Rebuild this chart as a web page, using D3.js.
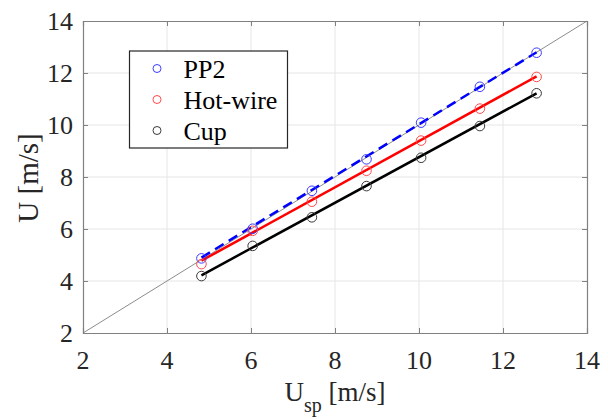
<!DOCTYPE html>
<html>
<head>
<meta charset="utf-8">
<script src="https://cdn.jsdelivr.net/npm/d3@7"></script>
</head>
<body style="margin:0; background:#fff; font-family: 'Times New Roman', serif">
<script>
// measured reference speeds (x) and the three instruments (y)
const uSp     = [4.82, 6.04, 7.45, 8.75, 10.05, 11.45, 12.8];
const pp2     = [4.87, 6.01, 7.47, 8.68, 10.09, 11.47, 12.78];
const hotWire = [4.65, 5.93, 7.05, 8.24, 9.40, 10.63, 11.85];
const cup     = [4.19, 5.35, 6.45, 7.65, 8.74, 9.96, 11.22];

// fitted lines, start/end values at first and last uSp
const fitX       = [4.82, 12.8];
const fitPP2     = [4.90, 12.80];
const fitHotWire = [4.78, 11.87];
const fitCup     = [4.22, 11.22];

const ticks = [2, 4, 6, 8, 10, 12, 14];
const seriesNames = ["PP2", "Hot-wire", "Cup"];

const serif = size => size + "px 'Times New Roman', serif";

const W = 608, H = 419;
const margin = { top: 21, right: 21, bottom: 86, left: 83 };
const width = W - margin.left - margin.right;
const height = H - margin.top - margin.bottom;

const svg = d3.select("body").append("svg")
    .attr("width", W)
    .attr("height", H);

const g = svg.append("g")
    .attr("transform", "translate(" + margin.left + "," + margin.top + ")");

const x = d3.scaleLinear().domain([2, 14]).range([0, width]);
const y = d3.scaleLinear().domain([2, 14]).range([height, 0]);

// grid
g.append("g").selectAll("line")
    .data(ticks.slice(1, -1)).join("line")
    .attr("x1", d => x(d)).attr("x2", d => x(d))
    .attr("y1", 0).attr("y2", height)
    .attr("stroke", "#e6e6e6").attr("stroke-width", 1);
g.append("g").selectAll("line")
    .data(ticks.slice(1, -1)).join("line")
    .attr("y1", d => y(d)).attr("y2", d => y(d))
    .attr("x1", 0).attr("x2", width)
    .attr("stroke", "#e6e6e6").attr("stroke-width", 1);

// y = x reference line
g.append("line")
    .attr("x1", x(2)).attr("y1", y(2))
    .attr("x2", x(14)).attr("y2", y(14))
    .attr("stroke", "#8c8c8c").attr("stroke-width", 1);

// axes: lines only, labels drawn below
const xAxis = g.append("g").attr("transform", "translate(0," + height + ")")
    .call(d3.axisBottom(x).tickValues(ticks).tickSize(-5).tickFormat(""));
const yAxis = g.append("g")
    .call(d3.axisLeft(y).tickValues(ticks).tickSize(-5).tickFormat(""));
g.append("g").call(d3.axisTop(x).tickValues(ticks).tickSize(-5).tickFormat(""));
g.append("g").attr("transform", "translate(" + width + ",0)")
    .call(d3.axisRight(y).tickValues(ticks).tickSize(-5).tickFormat(""));
g.selectAll("g").attr("font-family", null).attr("font-size", null);
g.selectAll(".tick text").remove();
g.selectAll(".domain").attr("stroke", "#808080").attr("stroke-width", 1.2);
g.selectAll(".tick line").attr("stroke", "#808080");

// tick labels
g.append("g").selectAll("text")
    .data(ticks).join("text")
    .attr("x", d => x(d)).attr("y", height + 36)
    .attr("text-anchor", "middle")
    .attr("font-family", "Times New Roman")
    .style("font", serif(26)).style("fill", "#262626")
    .text(d => d);
g.append("g").selectAll("text")
    .data(ticks).join("text")
    .attr("x", -10).attr("y", d => y(d) + 9)
    .attr("text-anchor", "end")
    .attr("font-family", "Times New Roman")
    .style("font", serif(26)).style("fill", "#262626")
    .text(d => d);

// fit lines
const fits = [
    { v: fitCup, color: "#000000", dash: null },
    { v: fitHotWire, color: "#ff0000", dash: null },
    { v: fitPP2, color: "#0000ff", dash: "10,6" }
];
fits.forEach(f => {
    g.append("line")
        .attr("x1", x(fitX[0])).attr("y1", y(f.v[0]))
        .attr("x2", x(fitX[1])).attr("y2", y(f.v[1]))
        .attr("stroke", f.color).attr("stroke-width", 2.5)
        .attr("stroke-dasharray", f.dash);
});

// markers
const sets = [
    { v: pp2, color: "#3c3cff" },
    { v: hotWire, color: "#ff4a4a" },
    { v: cup, color: "#3a3a3a" }
];
sets.forEach(s => {
    g.append("g").selectAll("circle")
        .data(s.v).join("circle")
        .attr("cx", (d, i) => x(uSp[i]))
        .attr("cy", d => y(d))
        .attr("r", 4.8)
        .attr("fill", "none")
        .attr("stroke", s.color)
        .attr("stroke-width", 1);
});

// legend
const leg = svg.append("g").attr("transform", "translate(129.5,51)");
leg.append("rect")
    .attr("width", 158).attr("height", 97)
    .attr("fill", "#fff").attr("stroke", "#262626").attr("stroke-width", 1.2);
seriesNames.forEach((name, i) => {
    const row = leg.append("g").attr("transform", "translate(0," + (17.5 + i * 31) + ")");
    row.append("circle").attr("cx", 27.5).attr("cy", 0).attr("r", 4)
        .attr("fill", "none").attr("stroke", sets[i].color).attr("stroke-width", 1);
    row.append("text").attr("x", 54).attr("y", 9)
        .attr("font-family", "Times New Roman")
        .style("font", serif(26)).style("fill", "#000").text(name);
});

// axis labels
const xl = svg.append("text")
    .attr("x", margin.left + width / 2).attr("y", 401)
    .attr("text-anchor", "middle")
    .attr("font-family", "Times New Roman")
    .style("font", serif(27)).style("fill", "#262626");
xl.append("tspan").text("U");
xl.append("tspan").attr("dy", 11).style("font-size", "20px").text("sp");
xl.append("tspan").attr("dy", -11).text(" [m/s]");

svg.append("text")
    .attr("transform", "translate(38," + (margin.top + height / 2 + 1) + ") rotate(-90)")
    .attr("text-anchor", "middle")
    .attr("font-family", "Times New Roman")
    .style("font", serif(29)).style("fill", "#262626")
    .text("U [m/s]");
</script>
</body>
</html>
